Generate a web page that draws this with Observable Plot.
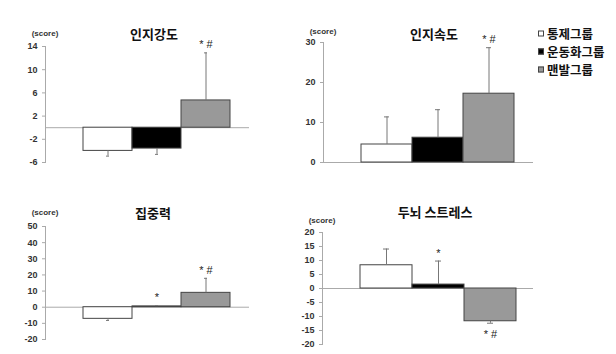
<!DOCTYPE html>
<html><head><meta charset="utf-8">
<script src="https://cdn.jsdelivr.net/npm/d3@7"></script>
<script src="https://cdn.jsdelivr.net/npm/@observablehq/plot@0.6"></script>
<style>
body{margin:0;background:#fff;font-family:"Noto Sans CJK KR",sans-serif}
#wrap{position:relative;width:616px;height:354px;overflow:hidden;background:#fff}
.panel{position:absolute}
.title{position:absolute;font-weight:bold;font-size:13px;transform:translate(-50%,-50%);white-space:nowrap;color:#111;font-family:"Noto Sans CJK KR",sans-serif}
.unit{position:absolute;font:bold 8px "Liberation Sans",Arial,sans-serif;transform:translate(-50%,-50%);color:#333;white-space:nowrap}
.leg{position:absolute;left:538px;font-weight:bold;font-size:12.5px;color:#111;white-space:nowrap;transform:translateY(-50%);display:flex;align-items:center}
.sw{display:inline-block;width:6px;height:6px;border:1px solid #444;margin-right:3px;box-sizing:border-box}
</style></head>
<body><div id="wrap"></div>
<script>
const groups = ["통제그룹", "운동화그룹", "맨발그룹"];
const fills = ["#ffffff", "#000000", "#999999"];

const titles = ["인지강도", "인지속도", "집중력", "두뇌 스트레스"];
const unitLabel = "(score)";

const intensityMean = [-4.0, -3.6, 4.7];
const intensitySd = [0.9, 1.0, 8.2];
const intensityNotes = ["", "", "* #"];
const intensityTicks = [14, 10, 6, 2, -2, -6];

const speedMean = [4.5, 6.2, 17.2];
const speedSd = [6.9, 7.0, 11.5];
const speedNotes = ["", "", "* #"];
const speedTicks = [30, 20, 10, 0];

const concMean = [-7.2, 0.5, 8.9];
const concSd = [1.0, 0.5, 9.0];
const concNotes = ["", "*", "* #"];
const concTicks = [50, 40, 30, 20, 10, 0, -10, -20];

const stressMean = [8.3, 1.4, -11.7];
const stressSd = [5.8, 8.4, 0.7];
const stressNotes = ["", "*", "* #"];
const stressTicks = [20, 15, 10, 5, 0, -5, -10, -15, -20];

const wrap = document.getElementById("wrap");

function panel(o) {
  const rows = groups.map((g, i) => ({
    g, v: o.mean[i],
    e: o.mean[i] + (o.mean[i] >= 0 ? 1 : -1) * o.sd[i],
    n: o.notes[i]
  }));
  const p = Plot.plot({
    width: o.width, height: o.height,
    marginLeft: o.mL, marginTop: o.mT, marginBottom: o.mB, marginRight: o.mR,
    style: {background: "transparent", fontFamily: "Liberation Sans, Arial, sans-serif", fontSize: "9px", fontWeight: "bold", color: "#333", overflow: "visible"},
    x: {type: "band", domain: groups, range: o.xr, padding: 0, axis: null},
    y: {domain: o.domain, range: [o.height - o.mB, o.mT], axis: null},
    color: {domain: groups, range: fills},
    marks: [
      Plot.frame({anchor: "left", stroke: "#aaa"}),
      Plot.axisY({ticks: o.ticks, tickSize: 3, tickPadding: 5, stroke: "#aaa", fill: "#333", fontWeight: "bold", fontSize: 9, label: null, tickFormat: d => String(d)}),
      Plot.ruleY([0], {stroke: "#aaa"}),
      Plot.barY(rows, {x: "g", y: "v", fill: "g", stroke: "#444", strokeWidth: 1}),
      Plot.ruleX(rows, {x: "g", y1: "v", y2: "e", stroke: "#777"}),
      Plot.tickY(rows, {x: "g", y: "e", stroke: "#777", insetLeft: 23, insetRight: 23}),
      Plot.text(rows.filter(d => d.e >= 0), {x: "g", y: "e", text: "n", dy: -8, fontSize: 11, fontWeight: "normal", fill: "#222"}),
      Plot.text(rows.filter(d => d.e < 0), {x: "g", y: "e", text: "n", dy: 11, fontSize: 11, fontWeight: "normal", fill: "#222"})
    ]
  });
  p.classList.add("panel");
  p.style.left = o.left + "px";
  p.style.top = o.top + "px";
  wrap.appendChild(p);
  const t = document.createElement("div");
  t.className = "title"; t.textContent = o.title;
  t.style.left = o.tx + "px"; t.style.top = o.ty + "px";
  wrap.appendChild(t);
  const u = document.createElement("div");
  u.className = "unit"; u.textContent = unitLabel;
  u.style.left = o.ux + "px"; u.style.top = o.uy + "px";
  wrap.appendChild(u);
}

panel({mean: intensityMean, sd: intensitySd, notes: intensityNotes, ticks: intensityTicks, domain: [-6, 14],
  left: 0, top: 0, width: 260, height: 180, mL: 45, mT: 46, mB: 18, mR: 11, xr: [82, 231],
  title: titles[0], tx: 154, ty: 33, ux: 45, uy: 33});
panel({mean: speedMean, sd: speedSd, notes: speedNotes, ticks: speedTicks, domain: [0, 30],
  left: 260, top: 0, width: 280, height: 180, mL: 63, mT: 42, mB: 18, mR: 7, xr: [101, 254],
  title: titles[1], tx: 434, ty: 33, ux: 323, uy: 31});
panel({mean: concMean, sd: concSd, notes: concNotes, ticks: concTicks, domain: [-20, 50],
  left: 0, top: 180, width: 260, height: 174, mL: 45, mT: 46, mB: 15, mR: 11, xr: [82, 231],
  title: titles[2], tx: 153, ty: 212, ux: 45, uy: 212});
panel({mean: stressMean, sd: stressSd, notes: stressNotes, ticks: stressTicks, domain: [-20, 20],
  left: 260, top: 180, width: 280, height: 174, mL: 62, mT: 52, mB: 10, mR: 7, xr: [100, 256],
  title: titles[3], tx: 435, ty: 211, ux: 322, uy: 220});

const legendY = [33, 51, 69];
groups.forEach((g, i) => {
  const d = document.createElement("div");
  d.className = "leg";
  d.style.top = legendY[i] + "px";
  const s = document.createElement("span");
  s.className = "sw"; s.style.background = fills[i];
  d.appendChild(s);
  d.appendChild(document.createTextNode(g));
  wrap.appendChild(d);
});
</script></body></html>
